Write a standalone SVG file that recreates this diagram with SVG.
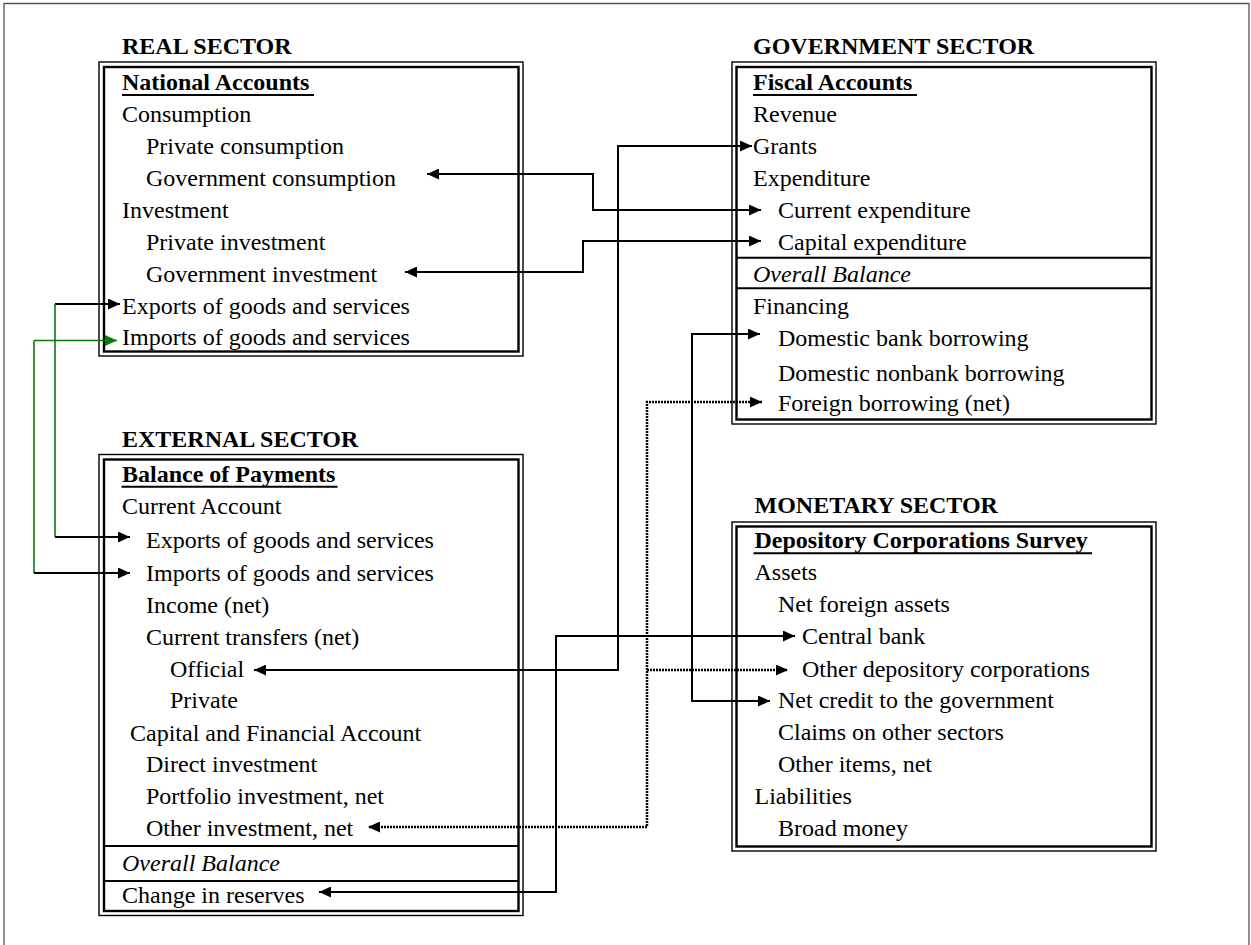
<svg xmlns="http://www.w3.org/2000/svg" width="1251" height="945" viewBox="0 0 1251 945">
<defs>
<marker id="ah" markerUnits="userSpaceOnUse" markerWidth="12" markerHeight="11" refX="12" refY="5.5" orient="auto-start-reverse"><path d="M0,0 L12,5.5 L0,11 z" fill="#000"/></marker>
<marker id="ahg" markerUnits="userSpaceOnUse" markerWidth="12" markerHeight="11" refX="12" refY="5.5" orient="auto-start-reverse"><path d="M0,0 L12,5.5 L0,11 z" fill="#0a7a0a"/></marker>
</defs>
<style>
text{font-family:"Liberation Serif","Times New Roman",serif;font-size:24px;fill:#000}
.t{font-weight:bold}
.h{font-weight:bold}
.i{font-style:italic}
.ob{fill:none;stroke:#000;stroke-width:1.4}
.ib{fill:none;stroke:#000;stroke-width:2.4}
.sep{stroke:#000;stroke-width:2}
.ul{stroke:#000;stroke-width:2}
.c{fill:none;stroke:#000;stroke-width:2}
.g{fill:none;stroke:#0a7a0a;stroke-width:1.6}
.d{fill:none;stroke:#000;stroke-width:2.5;stroke-dasharray:2 1}
</style>
<rect width="1251" height="945" fill="#fff"/>
<path d="M4,950 V3.5 H1249 V950" fill="none" stroke="#555" stroke-width="1.3"/>

<g id="real-sector">
<text class="t" x="122" y="54">REAL SECTOR</text>
<rect class="ob" x="99" y="62" width="424" height="294"/>
<rect class="ib" x="104" y="67" width="414.5" height="284.5"/>
<text class="h" x="122" y="90">National Accounts</text>
<line class="ul" x1="122" y1="95" x2="314" y2="95"/>
<text x="122" y="122">Consumption</text>
<text x="146" y="154">Private consumption</text>
<text x="146" y="186">Government consumption</text>
<text x="122" y="218">Investment</text>
<text x="146" y="249.5">Private investment</text>
<text x="146" y="281.5">Government investment</text>
<text x="122" y="313.5">Exports of goods and services</text>
<text x="122" y="345">Imports of goods and services</text>
</g>

<g id="government-sector">
<text class="t" x="753" y="54">GOVERNMENT SECTOR</text>
<rect class="ob" x="732" y="62" width="424" height="362"/>
<rect class="ib" x="736.5" y="67" width="415" height="352.5"/>
<text class="h" x="753" y="90">Fiscal Accounts</text>
<line class="ul" x1="753" y1="95" x2="917" y2="95"/>
<text x="753" y="122">Revenue</text>
<text x="753" y="154">Grants</text>
<text x="753" y="186">Expenditure</text>
<text x="778" y="218">Current expenditure</text>
<text x="778" y="250">Capital expenditure</text>
<line class="sep" x1="736.5" y1="257.7" x2="1151.5" y2="257.7"/>
<text class="i" x="753" y="282">Overall Balance</text>
<line class="sep" x1="736.5" y1="288.3" x2="1151.5" y2="288.3"/>
<text x="753" y="314">Financing</text>
<text x="778" y="345.5">Domestic bank borrowing</text>
<text x="778" y="380.7">Domestic nonbank borrowing</text>
<text x="778" y="410.7">Foreign borrowing (net)</text>
</g>

<g id="external-sector">
<text class="t" x="122" y="447">EXTERNAL SECTOR</text>
<rect class="ob" x="99" y="454.5" width="424" height="461"/>
<rect class="ib" x="104" y="459.5" width="414.5" height="451.5"/>
<text class="h" x="122" y="482">Balance of Payments</text>
<line class="ul" x1="121.5" y1="486.7" x2="337.5" y2="486.7"/>
<text x="122" y="513.5">Current Account</text>
<text x="146" y="548">Exports of goods and services</text>
<text x="146" y="580.5">Imports of goods and services</text>
<text x="146" y="612.5">Income (net)</text>
<text x="146" y="645">Current transfers (net)</text>
<text x="170" y="676.5">Official</text>
<text x="170" y="708">Private</text>
<text x="130" y="740.5">Capital and Financial Account</text>
<text x="146" y="772">Direct investment</text>
<text x="146" y="804">Portfolio investment, net</text>
<text x="146" y="835.5">Other investment, net</text>
<line class="sep" x1="104" y1="846" x2="518.5" y2="846"/>
<text class="i" x="122" y="871">Overall Balance</text>
<line class="sep" x1="104" y1="881" x2="518.5" y2="881" stroke-width="2.8"/>
<text x="122" y="903">Change in reserves</text>
</g>

<g id="monetary-sector">
<text class="t" x="754.5" y="513">MONETARY SECTOR</text>
<rect class="ob" x="732" y="522" width="424" height="329"/>
<rect class="ib" x="736.5" y="526.5" width="415" height="320"/>
<text class="h" x="754.5" y="548">Depository Corporations Survey</text>
<line class="ul" x1="753.5" y1="553.3" x2="1092" y2="553.3"/>
<text x="754.5" y="580">Assets</text>
<text x="778" y="612">Net foreign assets</text>
<text x="802" y="643.5">Central bank</text>
<text x="802" y="676.5">Other depository corporations</text>
<text x="778" y="708">Net credit to the government</text>
<text x="778" y="740">Claims on other sectors</text>
<text x="778" y="772">Other items, net</text>
<text x="754.5" y="804">Liabilities</text>
<text x="778" y="836">Broad money</text>
</g>

<g id="connectors">
<path class="c" d="M55,304 H120" marker-end="url(#ah)"/>
<path class="g" d="M55,304 V537"/>
<path class="c" d="M55,537 H130" marker-end="url(#ah)"/>
<path class="g" d="M34,340.5 H117" marker-end="url(#ahg)"/>
<path class="g" d="M34,340.5 V573"/>
<path class="c" d="M34,573 H130" marker-end="url(#ah)"/>
<path class="c" d="M427,174 H593 V210 H761" marker-start="url(#ah)" marker-end="url(#ah)"/>
<path class="c" d="M405,272 H583 V241 H761" marker-start="url(#ah)" marker-end="url(#ah)"/>
<path class="c" d="M254,670 H618 V146 H752" marker-start="url(#ah)" marker-end="url(#ah)"/>
<path class="c" d="M319,892 H556 V636 H795" marker-start="url(#ah)" marker-end="url(#ah)"/>
<path class="c" d="M760,334 H692 V701 H770" marker-start="url(#ah)" marker-end="url(#ah)"/>
<path class="d" d="M762,402 H647 V827 H368" marker-start="url(#ah)" marker-end="url(#ah)"/>
<path class="d" d="M647,670 H788" marker-end="url(#ah)"/>
</g>
</svg>
